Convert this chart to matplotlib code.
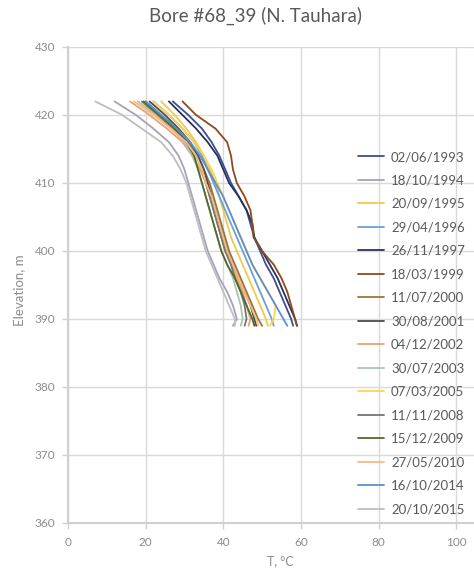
import matplotlib
matplotlib.use("Agg")
import matplotlib.pyplot as plt

plt.rcParams['font.family'] = ['Lato', 'DejaVu Sans']

elevation = [422, 420, 418, 416, 414, 412, 410, 408, 406, 404, 402, 400, 398, 396, 394, 392, 390, 389]

labels = ["02/06/1993", "18/10/1994", "20/09/1995", "29/04/1996", "26/11/1997",
          "18/03/1999", "11/07/2000", "30/08/2001", "04/12/2002", "30/07/2003",
          "07/03/2005", "11/11/2008", "15/12/2009", "27/05/2010", "16/10/2014",
          "20/10/2015"]

colors = ["#3B4E96", "#A7A2B8", "#F2C94C", "#6E9FD6", "#2B3152",
          "#8C4A1E", "#9A7636", "#4D4D4D", "#F0A070", "#A9C6B6",
          "#FFD54A", "#757575", "#4E6B2C", "#F6BC86", "#5B8FD0",
          "#BDBDC4"]

t_1993 = [27, 31, 34.5, 37, 39, 40.5, 42, 44, 46, 47, 48, 49.5, 51, 53, 54.5, 56, 57.5, 58]
t_1994 = [12, 17.5, 22, 26, 28.5, 30, 31, 32, 33, 34, 35, 36, 37.5, 39, 41, 42.5, 43.5, 42.5]
t_1995 = [24, 27.5, 30.5, 33, 35, 36.5, 38, 39, 40, 41, 42, 43.5, 45, 46.5, 48, 49.5, 51, 51.5]
t_1996 = [22, 26, 29.5, 32.5, 34.5, 36, 37.5, 39, 40.5, 42, 43.5, 45, 46.5, 48, 49.5, 51, 52.5, 53]
t_1997 = [26, 29.5, 33, 36, 38.5, 40, 41.5, 44, 46, 47.5, 48, 50, 52, 54, 55.5, 57, 58.5, 59]
t_1999 = [29.5, 33, 38, 41, 42, 42.5, 43.5, 45.5, 47, 47.5, 47.8, 50, 53, 55, 56.5, 57.5, 58.5, 59]
t_2000 = [19, 23, 27, 31, 33.5, 35, 36.5, 37.5, 38.5, 39.5, 40.5, 41.5, 43, 44.5, 46, 47.5, 49, 50]
t_2001 = [21, 25, 28.5, 31.5, 33.5, 35, 36, 37, 38, 39, 40, 41, 42.5, 44, 45.5, 47, 48, 48.5]
t_2002 = [16, 21, 25.5, 29.5, 32, 34, 35.5, 36.5, 37.5, 38.5, 39.5, 40.5, 42, 43.5, 45, 46, 47, 46.5]
t_2003 = [18, 22.5, 26.5, 30, 32, 33.5, 34.5, 35.5, 36.5, 37.5, 38.5, 39.5, 41, 42.5, 43.5, 44.5, 45, 44.5]
t_2005 = [22, 26, 29.5, 32.5, 35, 37, 38.5, 40, 41.5, 43, 44.5, 46, 47.5, 49.5, 51.5, 53.5, 53, 52]
t_2008 = [20, 24, 28, 31, 33, 34.5, 35.5, 36.5, 37.5, 38.5, 39.5, 40.5, 42, 43, 44.5, 45.5, 46, 45.5]
t_2009 = [19.5, 23.5, 27.5, 30.5, 32.5, 33.5, 34.5, 35.5, 36.5, 37.5, 38.5, 39.5, 41, 43, 44.5, 46, 47.5, 48]
t_2010 = [17, 22, 26.5, 30.5, 33, 34.5, 35.5, 37, 38, 39, 40, 41, 42.5, 44, 45.5, 47, 48.5, 49]
t_2014 = [20, 24, 28, 31.5, 34, 36, 38, 40, 41.5, 43, 44.5, 46, 47.5, 49.5, 51.5, 53.5, 55.5, 56.5]
t_2015 = [7, 14, 19, 24, 27, 29, 30.5, 31.5, 32.5, 33.5, 34.5, 35.5, 37, 38.5, 40, 41.5, 43, 43]

series = [t_1993, t_1994, t_1995, t_1996, t_1997, t_1999, t_2000, t_2001,
          t_2002, t_2003, t_2005, t_2008, t_2009, t_2010, t_2014, t_2015]

x_ticks = [0, 20, 40, 60, 80, 100]
y_ticks = [360, 370, 380, 390, 400, 410, 420, 430]

fig = plt.figure(figsize=(4.74, 5.72), dpi=100)
ax = fig.add_axes([68/474, 1 - 523/572, (474 - 68)/474, (523 - 47)/572])

for t, lab, c in zip(series, labels, colors):
    ax.plot(t, elevation, color=c, lw=1.3, label=lab, solid_capstyle='round')

ax.set_xlim(0, 104.6)
ax.set_ylim(360, 430)
ax.set_xticks(x_ticks)
ax.set_yticks(y_ticks)
ax.grid(True, color="#D9D9D9", lw=1.0)
ax.set_axisbelow(True)
for s in ["top", "right"]:
    ax.spines[s].set_visible(False)
for s in ["left", "bottom"]:
    ax.spines[s].set_color("#D0D0D0")
    ax.spines[s].set_linewidth(1.5)
ax.tick_params(axis='both', colors="#D0D0D0", labelcolor="#8C8C8C", labelsize=8.5, length=4, width=1)
ax.tick_params(axis='x', pad=6)
ax.tick_params(axis='y', pad=5)

fig.text(256/474, 1 - 16/572, "Bore #68_39 (N. Tauhara)", ha='center', va='center',
         fontsize=13.5, color="#595959")
fig.text(280/474, 1 - 561/572, "T, °C", ha='center', va='center', fontsize=9, color="#8C8C8C")
fig.text(19/474, 1 - 290/572, "Elevation, m", ha='center', va='center', rotation=90,
         fontsize=9.5, color="#8C8C8C")

leg = ax.legend(loc='upper left', bbox_to_anchor=(358/474, 1 - 151/572),
                bbox_transform=fig.transFigure, frameon=False, fontsize=9.5,
                handlelength=2.0, handletextpad=0.5, labelspacing=0.87,
                borderpad=0, borderaxespad=0)
for txt in leg.get_texts():
    txt.set_color("#595959")

fig.savefig("out.png", dpi=100)
